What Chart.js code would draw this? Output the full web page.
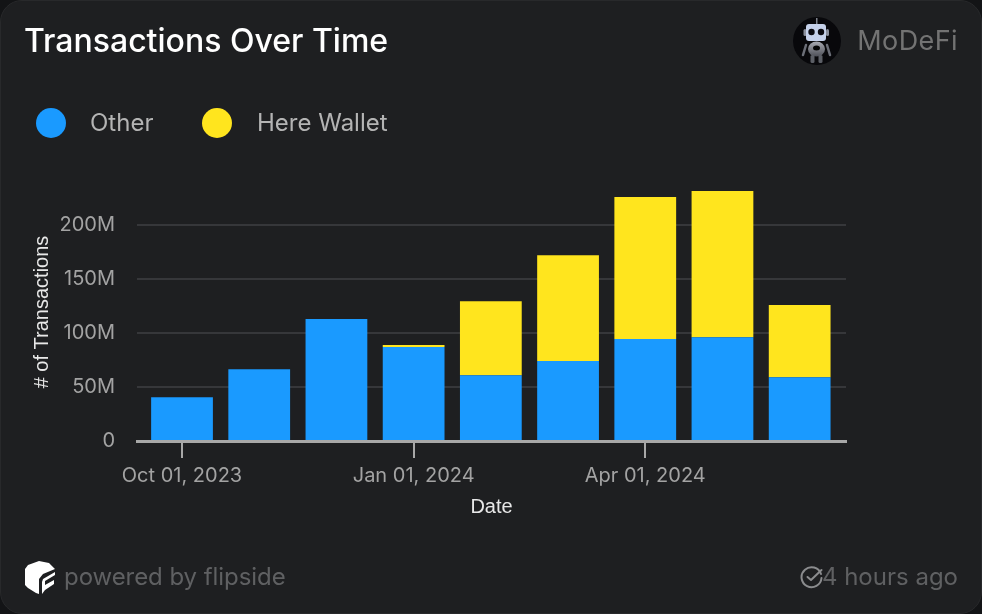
<!DOCTYPE html>
<html>
<head>
<meta charset="utf-8">
<title>Transactions Over Time</title>
<script src="https://cdn.jsdelivr.net/npm/chart.js@4"></script>
<style>
    html, body { margin: 0; padding: 0; background: #131416; }
    #card { position: relative; width: 982px; height: 614px; box-sizing: border-box; background: #1e1f21; border: 1px solid #28292b; border-radius: 22px; overflow: hidden; font-family: Inter, sans-serif; }
    #chart { position: absolute; left: -1px; top: -1px; }
    .txt { position: absolute; white-space: nowrap; line-height: 1; }
    #title { left: 23px; top: 24px; font-size: 32px; font-weight: 500; color: #fff; }
    #owner { right: 23px; top: 26px; font-size: 27px; color: #737373; letter-spacing: .4px; }
    #powered { left: 63px; top: 564px; font-size: 24px; color: #5f6062; letter-spacing: -.06px; }
    #ago { right: 23px; top: 564px; font-size: 24px; color: #5f6062; }
    .leg { position: absolute; top: 107px; width: 30px; height: 30px; border-radius: 50%; }
    .legtxt { top: 110px; font-size: 24px; color: #b4b4b4; }
    svg { position: absolute; }
</style>
</head>
<body>
<div id="card">
    <canvas id="chart" width="982" height="614"></canvas>
    <div class="txt" id="title">Transactions Over Time</div>
    <svg style="left:792px;top:16px" width="48" height="48" viewBox="0 0 48 48">
        <defs>
            <linearGradient id="metal" x1="0" y1="0" x2="0" y2="1">
                <stop offset="0" stop-color="#a9abb3"/><stop offset="1" stop-color="#4e5058"/>
            </linearGradient>
        </defs>
        <circle cx="24" cy="24" r="24" fill="#08080b"/>
        <rect x="23" y="1" width="1.500" height="7" fill="#7f838d"/>
        <rect x="10.500" y="12" width="3" height="7" rx="1.500" fill="#8a8f9c"/><rect x="33" y="12" width="3" height="7" rx="1.500" fill="#8a8f9c"/>
        <rect x="13" y="7" width="20" height="17" rx="3" fill="#c5d1ea"/>
        <circle cx="18.500" cy="15" r="3.200" fill="#0a0a10"/><circle cx="28" cy="15" r="3.200" fill="#0a0a10"/>
        <ellipse cx="23.500" cy="32" rx="8.500" ry="7.500" fill="url(#metal)"/>
        <ellipse cx="23.500" cy="31" rx="3.500" ry="2.500" fill="#050506"/>
        <path d="M13 28 L10 38" stroke="#6b6e77" stroke-width="2.500" stroke-linecap="round"/><path d="M34 28 L37 38" stroke="#6b6e77" stroke-width="2.500" stroke-linecap="round"/>
        <rect x="17.500" y="38" width="4" height="8" rx="1.500" fill="#5c5f66"/><rect x="25.500" y="38" width="4" height="8" rx="1.500" fill="#5c5f66"/>
    </svg>
    <div class="txt" id="owner">MoDeFi</div>
    <svg style="left:24px;top:560px" width="31" height="33" viewBox="0 0 31 33">
        <path d="M14 0 L24 2 L30 8 L18 13 L14 18 L14 33 L11 32 L3 27 L0 24 L0 8 L3 4 Z" fill="#fff"/>
        <path d="M18 18 L30 11 L30 14 L20 20 L20 24 L29 19 L29 23 L20 29 L17 33 L17 21 Z" fill="#fff"/>
    </svg>
    <div class="txt" id="powered">powered by flipside</div>
    <svg style="left:799px;top:564px" width="24" height="24" viewBox="0 0 24 24" fill="none" stroke="#8b8c8e" stroke-width="2" stroke-linecap="round" stroke-linejoin="round">
        <path d="M21 9 A10 10 0 1 0 21.500 13"/><path d="M7.500 12 L11 15 L21.500 5"/>
    </svg>
    <div class="txt" id="ago">4 hours ago</div>
    <div id="legend"></div>
</div>
<script>
// one entry per month bar, oct 2023 is the first tick shown
var months = ['Oct 2023', 'Nov 2023', 'Dec 2023', 'Jan 2024', 'Feb 2024', 'Mar 2024', 'Apr 2024', 'May 2024', 'Jun 2024'];
var other = [40.5, 66.5, 113, 87, 61, 74, 94.5, 96, 59];
var hereWallet = [0, 0, 0, 2, 68.5, 98, 131.5, 135.5, 67];
var seriesNames = ['Other', 'Here Wallet'];
var seriesColors = ['#1a9aff', '#ffe51e'];

var yTicks = [0, 50, 100, 150, 200];
var xTickIndex = [0, 3, 6];
var xTickLabels = ['Oct 01, 2023', 'Jan 01, 2024', 'Apr 01, 2024'];

function toPoints(values) {
    return values.map(function(v, i) {
        return { x: i, y: v, month: months[i] };
    });
}

// legend is html because of the big circles
var legendX = [[35, 89], [201, 256]];
var legendEl = document.getElementById('legend');
seriesNames.forEach(function(name, i) {
    var dot = document.createElement('div');
    dot.className = 'leg';
    dot.style.left = legendX[i][0] + 'px';
    dot.style.background = seriesColors[i];
    legendEl.appendChild(dot);
    var label = document.createElement('div');
    label.className = 'txt legtxt';
    label.style.left = legendX[i][1] + 'px';
    label.textContent = name;
    legendEl.appendChild(label);
});

var ctx = document.getElementById('chart');
var chart = new Chart(ctx, {
    type: 'bar',
    data: {
        datasets: [{
            label: seriesNames[0],
            data: toPoints(other),
            backgroundColor: seriesColors[0],
            borderWidth: 0
        }, {
            label: seriesNames[1],
            data: toPoints(hereWallet),
            backgroundColor: seriesColors[1],
            borderWidth: 0
        }]
    },
    options: {
        responsive: false,
        animation: false,
        devicePixelRatio: 1,
        layout: { padding: { left: 26, right: 136, top: 183, bottom: 91 } },
        plugins: { legend: { display: false }, tooltip: { enabled: false } },
        scales: {
            x: {
                type: 'linear',
                stacked: true,
                offset: false,
                min: -0.583,
                max: 8.6,
                afterBuildTicks: function(axis) {
                    axis.ticks = xTickIndex.map(function(v) { return { value: v }; });
                },
                afterFit: function(axis) { axis.height = 82; },
                ticks: {
                    color: '#a3a3a3',
                    font: { family: 'Inter', size: 20 },
                    padding: 6,
                    maxRotation: 0,
                    autoSkip: false,
                    callback: function(value) {
                        return xTickLabels[xTickIndex.indexOf(value)];
                    }
                },
                grid: {
                    offset: false,
                    drawOnChartArea: false,
                    color: '#a8a8a8',
                    lineWidth: 2,
                    tickLength: 17
                },
                border: { color: '#a8a8a8', width: 3 },
                title: {
                    display: true,
                    text: 'Date',
                    color: '#e8e8e8',
                    padding: { top: 7, bottom: 4 },
                    font: { family: 'Liberation Sans', size: 20 }
                }
            },
            y: {
                stacked: true,
                min: 0,
                max: 239,
                afterBuildTicks: function(axis) {
                    axis.ticks = yTicks.map(function(v) { return { value: v }; });
                },
                afterFit: function(axis) { axis.width = 111; },
                ticks: {
                    color: '#a3a3a3',
                    font: { family: 'Inter', size: 20 },
                    padding: 22,
                    callback: function(value) { return value === 0 ? '0' : value + 'M'; }
                },
                grid: { color: '#36373a', lineWidth: 2, drawTicks: false },
                border: { display: false },
                title: {
                    display: true,
                    text: '# of Transactions',
                    color: '#e8e8e8',
                    font: { family: 'Liberation Sans', size: 20 }
                }
            }
        },
        datasets: { bar: { barPercentage: 0.8, categoryPercentage: 1 } }
    }
});
</script>
</body>
</html>
